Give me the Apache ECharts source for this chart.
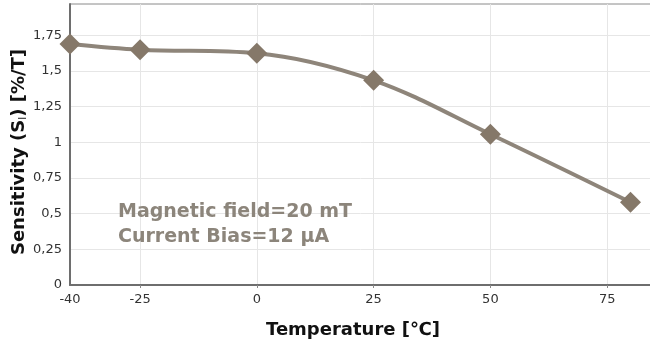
<!DOCTYPE html>
<html>
<head>
<meta charset="utf-8">
<script src="https://cdn.jsdelivr.net/npm/echarts@6/dist/echarts.min.js"></script>
<style>html,body{margin:0;padding:0;background:#fff;}#c{width:650px;height:345px;}</style>
</head>
<body>
<div id="c"></div>
<script>
const temperatures = [-40, -25, 0, 25, 50, 80];
const sensitivity = [1.69, 1.65, 1.625, 1.435, 1.057, 0.58];
const xTicks = [-40, -25, 0, 25, 50, 75];
const xGrid = [-25, 0, 25, 50, 75];
const yTicks = [0, 0.25, 0.5, 0.75, 1, 1.25, 1.5, 1.75];
const noteLines = ['Magnetic field=20 mT', 'Current Bias=12 μA'];

const chart = echarts.init(document.getElementById('c'), null, {renderer: 'canvas'});
chart.setOption({
  animation: false,
  backgroundColor: '#fff',
  grid: {left: 70, right: -2, top: 4, bottom: 60, show: true, borderColor: '#8a8a8a', borderWidth: 1,
    backgroundColor: 'transparent', containLabel: false, outerBoundsMode: 'none'},
  xAxis: {
    type: 'value', min: -40, max: 84.6,
    name: 'Temperature [℃]', nameLocation: 'middle', nameGap: 36,
    nameTextStyle: {fontFamily: 'DejaVu Sans', fontWeight: 'bold', fontSize: 18, color: '#111', padding: [0, 16, 0, 0]},
    axisLine: {show: true, onZero: false, lineStyle: {color: '#6e6e6e', width: 2}},
    axisTick: {show: true, length: 3, customValues: xGrid, lineStyle: {color: '#888'}},
    axisLabel: {customValues: xTicks, fontFamily: 'DejaVu Sans', fontSize: 13, color: '#333', margin: 8},
    splitLine: {show: true, lineStyle: {color: '#e6e6e6', width: 1}}
  },
  yAxis: {
    type: 'value', min: 0, max: 1.97,
    axisLine: {show: true, onZero: false, lineStyle: {color: '#6e6e6e', width: 2}},
    axisTick: {show: false, customValues: yTicks},
    axisLabel: {customValues: yTicks, fontFamily: 'DejaVu Sans', fontSize: 13, color: '#333', margin: 8,
      formatter: v => String(v).replace('.', ',')},
    splitLine: {show: true, lineStyle: {color: '#e6e6e6', width: 1}}
  },
  series: [{
    type: 'line',
    data: temperatures.map((t, i) => [t, sensitivity[i]]),
    smooth: 0.35,
    symbol: 'diamond', symbolSize: 21,
    lineStyle: {color: '#8e857a', width: 4},
    itemStyle: {color: '#857869'}
  }],
  graphic: [{
    type: 'text', left: 118, top: 200, z: 100,
    style: {text: noteLines.join('\n'), fontFamily: 'DejaVu Sans', fontWeight: 'bold', fontSize: 19, lineHeight: 25, fill: '#8c857b'}
  }, {
    type: 'text', x: 19, y: 152, rotation: Math.PI / 2, z: 100,
    style: {
      text: 'Sensitivity (S{s|I}) [%/T]',
      fontFamily: 'DejaVu Sans', fontWeight: 'bold', fontSize: 18, fill: '#111',
      align: 'center', verticalAlign: 'middle',
      rich: {s: {fontFamily: 'DejaVu Sans', fontSize: 10, fill: '#111', padding: [8, 0, 0, 0]}}
    }
  }]
});
</script>
</body>
</html>
